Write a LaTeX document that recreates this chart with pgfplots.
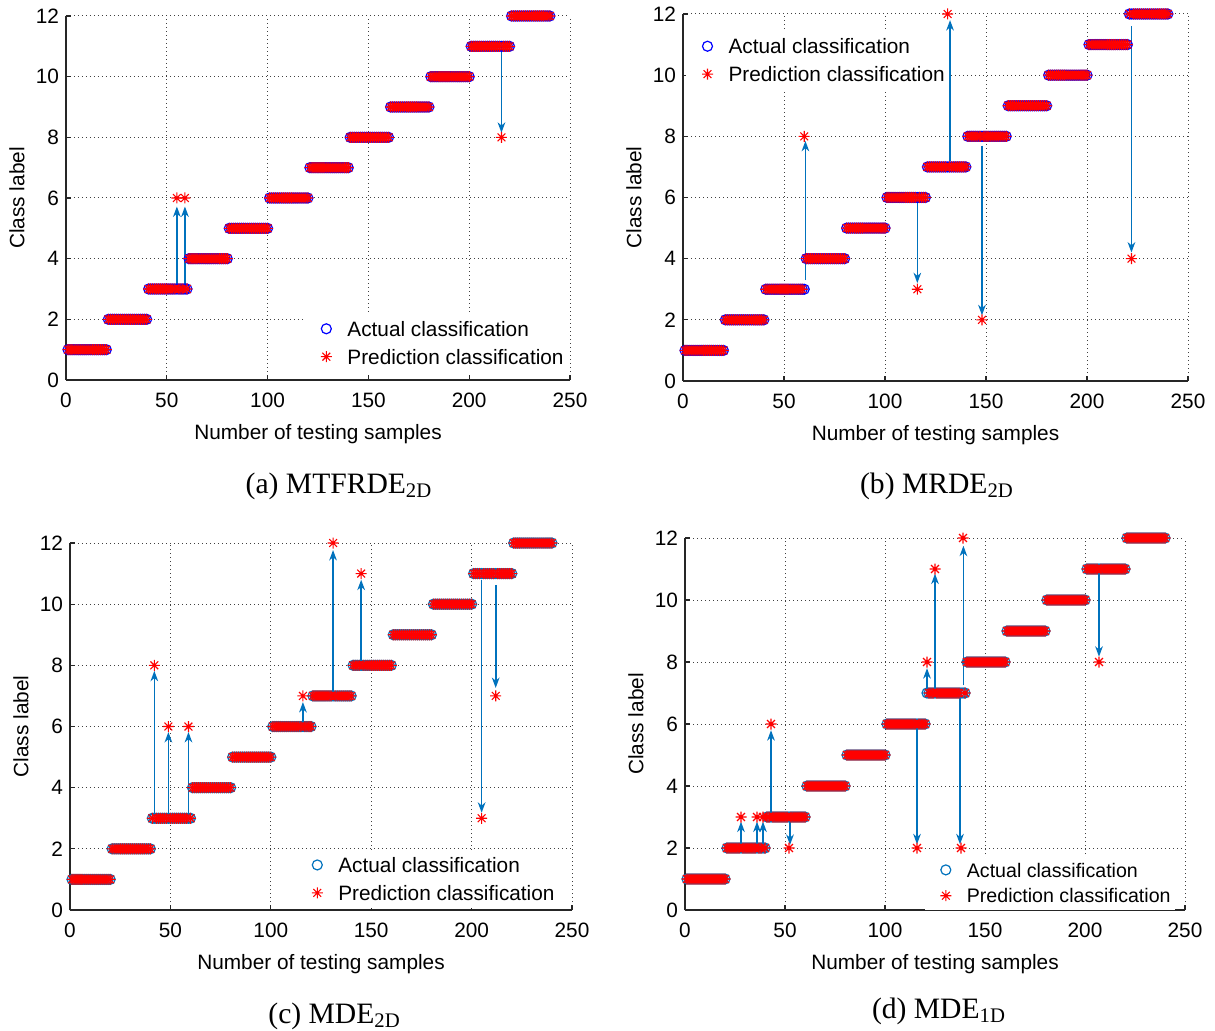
\documentclass[border=0pt]{standalone}
\usepackage{fontspec}
\setmainfont{Liberation Serif}
\newfontfamily\arial{Liberation Sans}
\usepackage{pgfplots}
\pgfplotsset{compat=1.18}
\usepackage{pgfplotstable}
\usetikzlibrary{arrows.meta}
\definecolor{mblue}{RGB}{0,114,189}
\definecolor{pblue}{RGB}{0,0,255}
\definecolor{mred}{RGB}{255,0,0}

\pgfdeclareplotmark{mstar}{%
  \pgfpathmoveto{\pgfpoint{-\pgfplotmarksize}{0pt}}\pgfpathlineto{\pgfpoint{\pgfplotmarksize}{0pt}}%
  \pgfpathmoveto{\pgfpoint{0pt}{-\pgfplotmarksize}}\pgfpathlineto{\pgfpoint{0pt}{\pgfplotmarksize}}%
  \pgfpathmoveto{\pgfpoint{-0.707\pgfplotmarksize}{-0.707\pgfplotmarksize}}\pgfpathlineto{\pgfpoint{0.707\pgfplotmarksize}{0.707\pgfplotmarksize}}%
  \pgfpathmoveto{\pgfpoint{-0.707\pgfplotmarksize}{0.707\pgfplotmarksize}}\pgfpathlineto{\pgfpoint{0.707\pgfplotmarksize}{-0.707\pgfplotmarksize}}%
  \pgfusepathqstroke}

\pgfplotstableread[row sep=\\]{
n a pa pb pc pd\\
1 1 1 1 1 1\\ 2 1 1 1 1 1\\ 3 1 1 1 1 1\\ 4 1 1 1 1 1\\ 5 1 1 1 1 1\\
6 1 1 1 1 1\\ 7 1 1 1 1 1\\ 8 1 1 1 1 1\\ 9 1 1 1 1 1\\ 10 1 1 1 1 1\\
11 1 1 1 1 1\\ 12 1 1 1 1 1\\ 13 1 1 1 1 1\\ 14 1 1 1 1 1\\ 15 1 1 1 1 1\\
16 1 1 1 1 1\\ 17 1 1 1 1 1\\ 18 1 1 1 1 1\\ 19 1 1 1 1 1\\ 20 1 1 1 1 1\\
21 2 2 2 2 2\\ 22 2 2 2 2 2\\ 23 2 2 2 2 2\\ 24 2 2 2 2 2\\ 25 2 2 2 2 2\\
26 2 2 2 2 2\\ 27 2 2 2 2 2\\ 28 2 2 2 2 3\\ 29 2 2 2 2 2\\ 30 2 2 2 2 2\\
31 2 2 2 2 2\\ 32 2 2 2 2 2\\ 33 2 2 2 2 2\\ 34 2 2 2 2 2\\ 35 2 2 2 2 2\\
36 2 2 2 2 3\\ 37 2 2 2 2 2\\ 38 2 2 2 2 2\\ 39 2 2 2 2 3\\ 40 2 2 2 2 2\\
41 3 3 3 3 3\\ 42 3 3 3 8 3\\ 43 3 3 3 3 6\\ 44 3 3 3 3 3\\ 45 3 3 3 3 3\\
46 3 3 3 3 3\\ 47 3 3 3 3 3\\ 48 3 3 3 3 3\\ 49 3 3 3 6 3\\ 50 3 3 3 3 3\\
51 3 3 3 3 3\\ 52 3 3 3 3 2\\ 53 3 3 3 3 3\\ 54 3 3 3 3 3\\ 55 3 6 3 3 3\\
56 3 3 3 3 3\\ 57 3 3 3 3 3\\ 58 3 3 3 3 3\\ 59 3 6 3 6 3\\ 60 3 3 8 3 3\\
61 4 4 4 4 4\\ 62 4 4 4 4 4\\ 63 4 4 4 4 4\\ 64 4 4 4 4 4\\ 65 4 4 4 4 4\\
66 4 4 4 4 4\\ 67 4 4 4 4 4\\ 68 4 4 4 4 4\\ 69 4 4 4 4 4\\ 70 4 4 4 4 4\\
71 4 4 4 4 4\\ 72 4 4 4 4 4\\ 73 4 4 4 4 4\\ 74 4 4 4 4 4\\ 75 4 4 4 4 4\\
76 4 4 4 4 4\\ 77 4 4 4 4 4\\ 78 4 4 4 4 4\\ 79 4 4 4 4 4\\ 80 4 4 4 4 4\\
81 5 5 5 5 5\\ 82 5 5 5 5 5\\ 83 5 5 5 5 5\\ 84 5 5 5 5 5\\ 85 5 5 5 5 5\\
86 5 5 5 5 5\\ 87 5 5 5 5 5\\ 88 5 5 5 5 5\\ 89 5 5 5 5 5\\ 90 5 5 5 5 5\\
91 5 5 5 5 5\\ 92 5 5 5 5 5\\ 93 5 5 5 5 5\\ 94 5 5 5 5 5\\ 95 5 5 5 5 5\\
96 5 5 5 5 5\\ 97 5 5 5 5 5\\ 98 5 5 5 5 5\\ 99 5 5 5 5 5\\ 100 5 5 5 5 5\\
101 6 6 6 6 6\\ 102 6 6 6 6 6\\ 103 6 6 6 6 6\\ 104 6 6 6 6 6\\ 105 6 6 6 6 6\\
106 6 6 6 6 6\\ 107 6 6 6 6 6\\ 108 6 6 6 6 6\\ 109 6 6 6 6 6\\ 110 6 6 6 6 6\\
111 6 6 6 6 6\\ 112 6 6 6 6 6\\ 113 6 6 6 6 6\\ 114 6 6 6 6 6\\ 115 6 6 6 6 6\\
116 6 6 3 7 2\\ 117 6 6 6 6 6\\ 118 6 6 6 6 6\\ 119 6 6 6 6 6\\ 120 6 6 6 6 6\\
121 7 7 7 7 8\\ 122 7 7 7 7 7\\ 123 7 7 7 7 7\\ 124 7 7 7 7 7\\ 125 7 7 7 7 11\\
126 7 7 7 7 7\\ 127 7 7 7 7 7\\ 128 7 7 7 7 7\\ 129 7 7 7 7 7\\ 130 7 7 7 7 7\\
131 7 7 12 12 7\\ 132 7 7 7 7 7\\ 133 7 7 7 7 7\\ 134 7 7 7 7 7\\ 135 7 7 7 7 7\\
136 7 7 7 7 7\\ 137 7 7 7 7 7\\ 138 7 7 7 7 2\\ 139 7 7 7 7 12\\ 140 7 7 7 7 7\\
141 8 8 8 8 8\\ 142 8 8 8 8 8\\ 143 8 8 8 8 8\\ 144 8 8 8 8 8\\ 145 8 8 8 11 8\\
146 8 8 8 8 8\\ 147 8 8 8 8 8\\ 148 8 8 2 8 8\\ 149 8 8 8 8 8\\ 150 8 8 8 8 8\\
151 8 8 8 8 8\\ 152 8 8 8 8 8\\ 153 8 8 8 8 8\\ 154 8 8 8 8 8\\ 155 8 8 8 8 8\\
156 8 8 8 8 8\\ 157 8 8 8 8 8\\ 158 8 8 8 8 8\\ 159 8 8 8 8 8\\ 160 8 8 8 8 8\\
161 9 9 9 9 9\\ 162 9 9 9 9 9\\ 163 9 9 9 9 9\\ 164 9 9 9 9 9\\ 165 9 9 9 9 9\\
166 9 9 9 9 9\\ 167 9 9 9 9 9\\ 168 9 9 9 9 9\\ 169 9 9 9 9 9\\ 170 9 9 9 9 9\\
171 9 9 9 9 9\\ 172 9 9 9 9 9\\ 173 9 9 9 9 9\\ 174 9 9 9 9 9\\ 175 9 9 9 9 9\\
176 9 9 9 9 9\\ 177 9 9 9 9 9\\ 178 9 9 9 9 9\\ 179 9 9 9 9 9\\ 180 9 9 9 9 9\\
181 10 10 10 10 10\\ 182 10 10 10 10 10\\ 183 10 10 10 10 10\\ 184 10 10 10 10 10\\ 185 10 10 10 10 10\\
186 10 10 10 10 10\\ 187 10 10 10 10 10\\ 188 10 10 10 10 10\\ 189 10 10 10 10 10\\ 190 10 10 10 10 10\\
191 10 10 10 10 10\\ 192 10 10 10 10 10\\ 193 10 10 10 10 10\\ 194 10 10 10 10 10\\ 195 10 10 10 10 10\\
196 10 10 10 10 10\\ 197 10 10 10 10 10\\ 198 10 10 10 10 10\\ 199 10 10 10 10 10\\ 200 10 10 10 10 10\\
201 11 11 11 11 11\\ 202 11 11 11 11 11\\ 203 11 11 11 11 11\\ 204 11 11 11 11 11\\ 205 11 11 11 3 11\\
206 11 11 11 11 11\\ 207 11 11 11 11 8\\ 208 11 11 11 11 11\\ 209 11 11 11 11 11\\ 210 11 11 11 11 11\\
211 11 11 11 11 11\\ 212 11 11 11 7 11\\ 213 11 11 11 11 11\\ 214 11 11 11 11 11\\ 215 11 11 11 11 11\\
216 11 8 11 11 11\\ 217 11 11 11 11 11\\ 218 11 11 11 11 11\\ 219 11 11 11 11 11\\ 220 11 11 11 11 11\\
221 12 12 12 12 12\\ 222 12 12 4 12 12\\ 223 12 12 12 12 12\\ 224 12 12 12 12 12\\ 225 12 12 12 12 12\\
226 12 12 12 12 12\\ 227 12 12 12 12 12\\ 228 12 12 12 12 12\\ 229 12 12 12 12 12\\ 230 12 12 12 12 12\\
231 12 12 12 12 12\\ 232 12 12 12 12 12\\ 233 12 12 12 12 12\\ 234 12 12 12 12 12\\ 235 12 12 12 12 12\\
236 12 12 12 12 12\\ 237 12 12 12 12 12\\ 238 12 12 12 12 12\\ 239 12 12 12 12 12\\ 240 12 12 12 12 12\\
}\cls

\tikzset{arr/.style={mblue, line width=0.8pt, -{Stealth[length=5.2pt,width=3.8pt,inset=1.6pt]}}}

\pgfplotsset{
  panel/.style={
    scale only axis, clip=false,
    xmin=0, xmax=250, ymin=0, ymax=12,
    xtick={0,50,...,250}, ytick={0,2,...,12},
    axis x line*=bottom, axis y line*=left,
    axis line style={-, black!85, line width=0.6pt},
    tick style={black!85, line width=0.6pt},
    major tick length=2.5pt, tick align=inside,
    grid=major,
    grid style={black!75, line width=0.5pt, dash pattern=on 0.5pt off 1.5pt},
    font=\arial\fontsize{10.4}{12.5}\selectfont,
    /pgf/number format/assume math mode=true,
    tick label style={font=\arial\fontsize{10.4}{12.5}\selectfont},
    xticklabel style={yshift=-3pt},
    xlabel={Number of testing samples}, ylabel={Class label},
    xlabel style={at={([yshift=-27pt]axis description cs:0.5,0)}, anchor=center},
    ylabel style={at={([xshift=-24.5pt]axis description cs:0,0.5)}, anchor=center},
    legend cell align=left,
    legend image code/.code={\path[draw=none,fill=none] (0cm,-0.05cm) rectangle (0.67cm,0.05cm);
      \draw[mark repeat=2,mark phase=2,##1] plot coordinates {(0cm,0cm) (0.335cm,0cm) (0.67cm,0cm)};},
    legend style={draw=none, fill=white, inner xsep=1pt, inner ysep=0.5pt,
      nodes={inner xsep=1pt, inner ysep=3.2pt, text depth=0pt},
      font=\arial\fontsize{10.4}{12.5}\selectfont},
  },
  act/.style={only marks, mark=o, mark size=2.5pt, line width=0.6pt, #1},
  pred/.style={only marks, mark=mstar, mark size=2.75pt, line width=0.55pt, mred},
}

\begin{document}
\begin{tikzpicture}
\path[use as bounding box] (0,0) rectangle (607.5pt,515pt);

% (a)
\begin{axis}[panel, at={(33pt,325pt)}, anchor=south west, width=252pt, height=182pt,
  legend style={at={(0.996,0.022)}, anchor=south east}]
\addplot[act=pblue] table[x=n,y=a]{\cls};
\addlegendentry{Actual classification}
\addplot[pred] table[x=n,y=pa]{\cls};
\addlegendentry{Prediction classification}
\draw[arr] (axis cs:55,3.05) -- (axis cs:55,5.72);
\draw[arr] (axis cs:59,3.05) -- (axis cs:59,5.72);
\draw[arr] (axis cs:216,10.98) -- (axis cs:216,8.15);
\end{axis}

% (b)
\begin{axis}[panel, at={(341.5pt,324.5pt)}, anchor=south west, width=252.5pt, height=183.5pt,
  legend style={at={(0.006,0.954)}, anchor=north west}]
\addplot[act=pblue] table[x=n,y=a]{\cls};
\addlegendentry{Actual classification}
\addplot[pred] table[x=n,y=pb]{\cls};
\addlegendentry{Prediction classification}
\draw[arr] (axis cs:60.6,3.3) -- (axis cs:60.6,7.85);
\draw[arr] (axis cs:116,5.9) -- (axis cs:116,3.2);
\draw[arr] (axis cs:132.2,7.2) -- (axis cs:132.2,11.8);
\draw[arr] (axis cs:148,7.7) -- (axis cs:148,2.15);
\draw[arr] (axis cs:222,11.6) -- (axis cs:222,4.2);
\end{axis}

% (c)
\begin{axis}[panel, at={(35pt,60pt)}, anchor=south west, width=251pt, height=183.5pt,
  legend style={at={(0.974,0.005)}, anchor=south east}]
\addplot[act=mblue] table[x=n,y=a]{\cls};
\addlegendentry{Actual classification}
\addplot[pred] table[x=n,y=pc]{\cls};
\addlegendentry{Prediction classification}
\draw[arr] (axis cs:42,3.1) -- (axis cs:42,7.82);
\draw[arr] (axis cs:49,3.1) -- (axis cs:49,5.82);
\draw[arr] (axis cs:59,3.1) -- (axis cs:59,5.82);
\draw[arr] (axis cs:116,6.0) -- (axis cs:116,6.8);
\draw[arr] (axis cs:131,7.0) -- (axis cs:131,11.77);
\draw[arr] (axis cs:145,8.0) -- (axis cs:145,10.8);
\draw[arr] (axis cs:205,10.8) -- (axis cs:205,3.18);
\draw[arr] (axis cs:212,10.63) -- (axis cs:212,7.26);
\end{axis}

% (d)
\begin{axis}[panel, at={(342.5pt,60pt)}, anchor=south west, width=250pt, height=186pt,
  legend style={at={(0.98,0.0)}, anchor=south east, font=\arial\fontsize{9.8}{12}\selectfont,
    nodes={inner ysep=2.9pt}}]
\addplot[act=mblue] table[x=n,y=a]{\cls};
\addlegendentry{Actual classification}
\addplot[pred] table[x=n,y=pd]{\cls};
\addlegendentry{Prediction classification}
\draw[arr] (axis cs:28,2.1) -- (axis cs:28,2.85);
\draw[arr] (axis cs:36,2.1) -- (axis cs:36,2.85);
\draw[arr] (axis cs:39,2.1) -- (axis cs:39,2.85);
\draw[arr] (axis cs:43,3.1) -- (axis cs:43,5.8);
\draw[arr] (axis cs:52.5,2.9) -- (axis cs:52.5,2.1);
\draw[arr] (axis cs:116,5.85) -- (axis cs:116,2.12);
\draw[arr] (axis cs:121,7.15) -- (axis cs:121,7.8);
\draw[arr] (axis cs:125,7.15) -- (axis cs:125,10.85);
\draw[arr] (axis cs:137.5,6.9) -- (axis cs:137.5,2.12);
\draw[arr] (axis cs:139.2,7.25) -- (axis cs:139.2,11.75);
\draw[arr] (axis cs:207,11.0) -- (axis cs:207,8.17);
\end{axis}

\node[anchor=base, font=\fontsize{14.8}{18}\selectfont] at (169.5pt,268.5pt) {(a) MTFRDE\textsubscript{2D}};
\node[anchor=base, font=\fontsize{14.8}{18}\selectfont] at (468.5pt,268.5pt) {(b) MRDE\textsubscript{2D}};
\node[anchor=base, font=\fontsize{14.8}{18}\selectfont] at (167.3pt,3.5pt) {(c) MDE\textsubscript{2D}};
\node[anchor=base, font=\fontsize{14.8}{18}\selectfont] at (469.5pt,6pt) {(d) MDE\textsubscript{1D}};
\end{tikzpicture}
\end{document}
